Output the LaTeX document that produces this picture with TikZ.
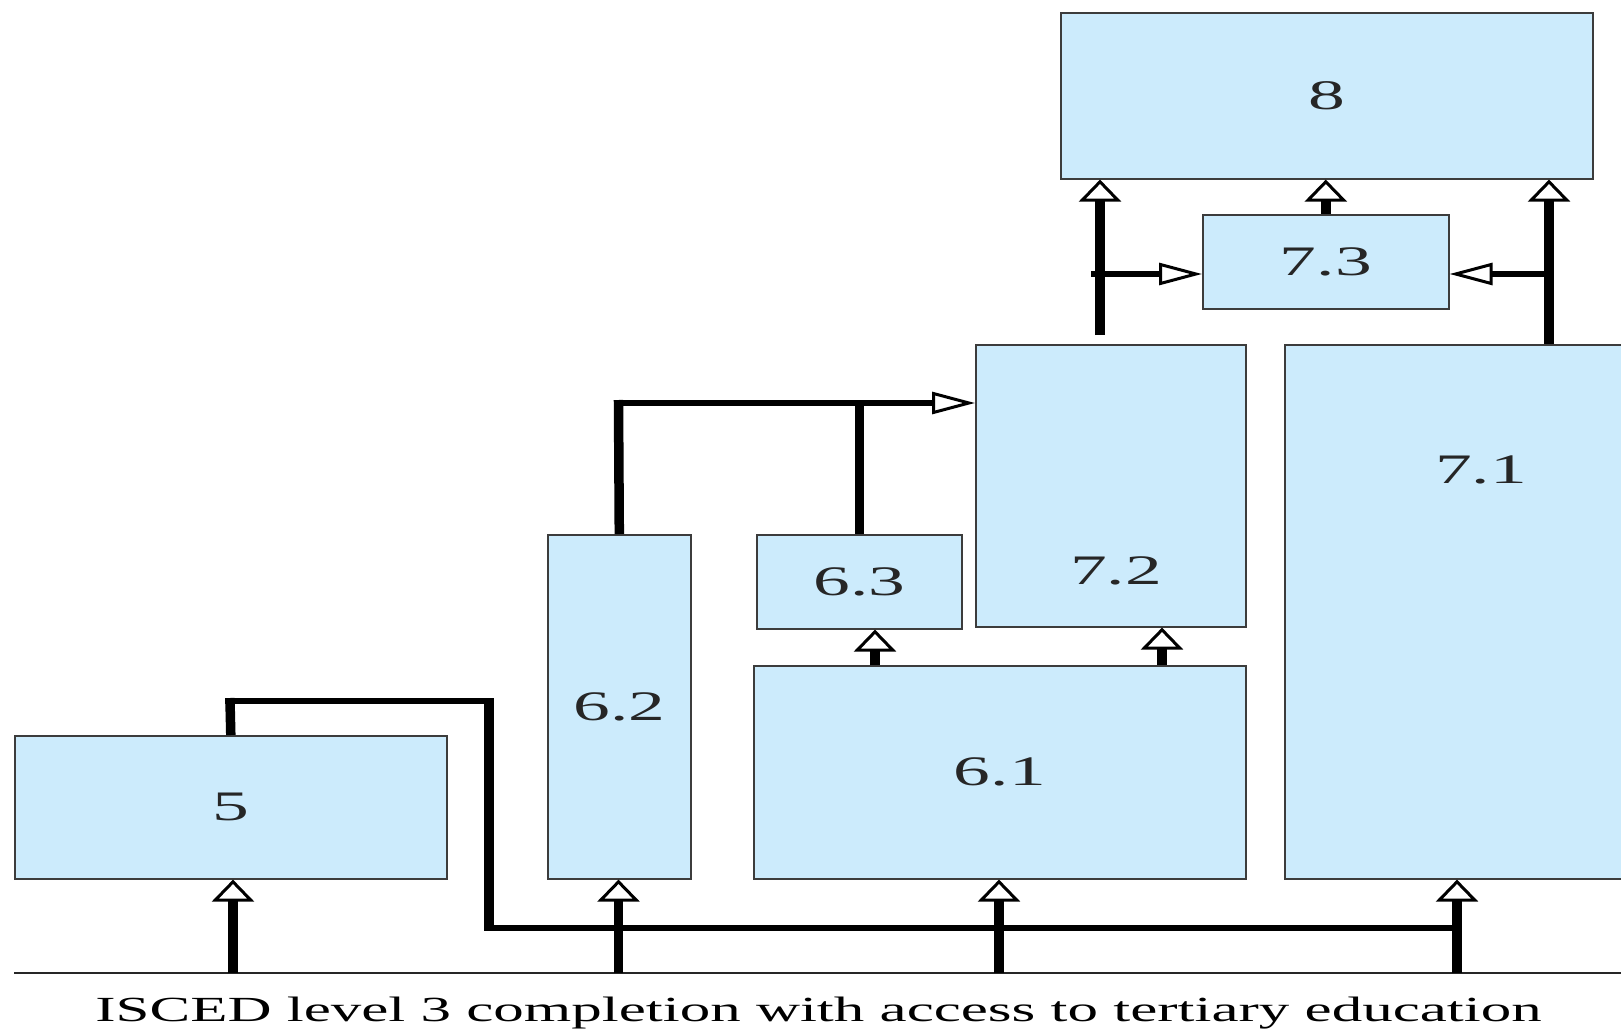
\documentclass[tikz,border=0pt]{standalone}
\usepackage{fontspec}
\setmainfont{Liberation Serif}
\usetikzlibrary{arrows.meta}
\definecolor{boxfill}{HTML}{CCEBFC}
\definecolor{boxline}{HTML}{3C3C3C}
\newcommand{\dg}[1]{\scalebox{1.75}[1]{#1}}
\begin{document}
\begin{tikzpicture}[x=1pt,y=-1pt,
  box/.style={draw=boxline, fill=boxfill, line width=1.6pt, inner sep=0pt, anchor=north west, font=\fontsize{42pt}{42pt}\selectfont, text=black!85},
  lbl/.style={inner sep=0pt, font=\fontsize{42pt}{42pt}\selectfont, text=black!85},
  vln/.style={line width=9.5pt},
  hln/.style={line width=6pt},
  uptip/.style={-{Triangle[width=42pt,length=22pt,fill=white,line width=3pt]}},
  sidetip/.style={-{Triangle[width=22pt,length=43pt,fill=white,line width=3pt]}},
]
\useasboundingbox (0,0) rectangle (1621,1032);
\fill[white] (0,0) rectangle (1621,1032);

% boxes
\node[box, minimum width=432pt, minimum height=143pt] (b5)  at (14,735)   {\dg{5}};
\node[box, minimum width=143pt, minimum height=344pt] (b62) at (547,534)  {\dg{6.2}};
\node[box, minimum width=205pt, minimum height=94pt]  (b63) at (756,534)  {\dg{6.3}};
\node[box, minimum width=492pt, minimum height=213pt] (b61) at (753,665)  {\dg{6.1}};
\node[box, minimum width=270pt, minimum height=282pt] (b72) at (975,344)  {};
\node[box, minimum width=360pt, minimum height=534pt] (b71) at (1284,344) {};
\node[box, minimum width=246pt, minimum height=94pt]  (b73) at (1202,214) {\dg{7.3}};
\node[box, minimum width=532pt, minimum height=166pt] (b8)  at (1060,12)  {\dg{8}};
\node[lbl] (t71) at (1481,470) {\dg{7.1}};
\node[lbl] (t72) at (1116,571) {\dg{7.2}};

% baseline and caption
\coordinate (bl) at (14,973);
\coordinate (br) at (1625,973);
\draw[line width=2.2pt, black!85] (bl) -- (br);
\node[anchor=base, inner sep=0pt, text=black] (cap) at (818.5,1021.5)
  {\resizebox{1446pt}{24.5pt}{ISCED level 3 completion with access to tertiary education}};

% arrows from baseline
\coordinate (s5)  at (233,973);
\coordinate (s62) at (618.5,973);
\coordinate (s61) at (999,973);
\coordinate (s71) at (1457,973);
\draw[vln,uptip] (s5)  -- (s5  |- b5.south);
\draw[vln,uptip] (s62) -- (s62 |- b62.south);
\draw[vln,uptip] (s61) -- (s61 |- b61.south);
\draw[vln,uptip] (s71) -- (s71 |- b71.south);

% loop from 5 to 7.1 line
\coordinate (k1) at (230,701);
\coordinate (k2) at (489,701);
\coordinate (k3) at (489,927.5);
\coordinate (k4) at (1457,927.5);
\draw[vln, shorten >=-3pt] (b5.north) -- (k1);
\draw[hln, shorten <=-4.75pt, shorten >=-4.75pt] (k1) -- (k2);
\draw[vln, shorten <=-3pt, shorten >=-3pt] (k2) -- (k3);
\draw[hln, shorten <=-4.75pt] (k3) -- (k4);

% 6.2 and 6.3 to 7.2
\coordinate (m1) at (618.5,403);
\coordinate (m2) at (b63.north |- m1);
\draw[vln, shorten >=-3pt] (b62.north) -- (m1);
\draw[vln] (b63.north) -- (m2);
\draw[hln, sidetip, shorten <=-4.75pt] (m1) -- (m1 -| b72.west);

% 6.1 to 6.3 and 7.2
\coordinate (u1) at (875,665);
\coordinate (u2) at (1162,665);
\draw[vln,uptip] (u1) -- (u1 |- b63.south);
\draw[vln,uptip] (u2) -- (u2 |- b72.south);

% 7.2 to 8 and 7.3
\coordinate (v1) at (1100,344);
\coordinate (v2) at (1100,274);
\draw[vln,uptip, shorten <=9pt] (v1) -- (v1 |- b8.south);
\draw[hln,sidetip, shorten <=-9pt] (v2) -- (v2 -| b73.west);

% 7.1 to 8 and 7.3
\coordinate (w1) at (1549,344);
\coordinate (w2) at (1549,274);
\draw[vln,uptip] (w1) -- (w1 |- b8.south);
\draw[hln,sidetip, shorten <=-2pt] (w2) -- (w2 -| b73.east);

% 7.3 to 8
\draw[vln,uptip] (b73.north) -- (b73.north |- b8.south);
\end{tikzpicture}
\end{document}
